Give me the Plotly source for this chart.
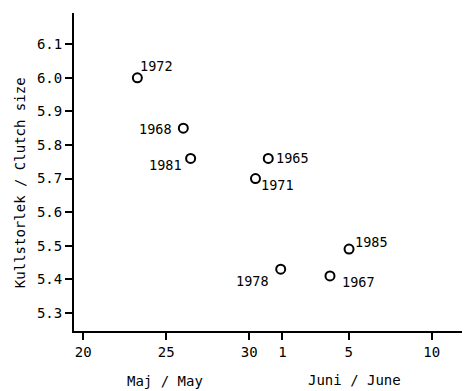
import plotly.graph_objects as go

# Data: laying date expressed as day number counted from 1 May (1 June = 32)
years = ["1972", "1968", "1981", "1965", "1971", "1978", "1967", "1985"]
lay_day = [23.26, 26.03, 26.47, 31.15, 30.38, 31.90, 34.87, 36.02]
clutch_size = [6.00, 5.85, 5.76, 5.76, 5.70, 5.43, 5.41, 5.49]

x_tick_vals = [20, 25, 30, 32, 36, 41]
x_tick_text = ["20", "25", "30", "1", "5", "10"]
y_tick_vals = [5.3, 5.4, 5.5, 5.6, 5.7, 5.8, 5.9, 6.0, 6.1]

# label offsets (pixels, right / up) relative to each point
label_dx = [19, -27.5, -25, 24, 22.5, -28, 29, 22.7]
label_dy = [12.3, -0.5, -6.8, 0.5, -6, -11.3, -6.2, 7]

FONT = "DejaVu Sans Mono"

fig = go.Figure()
fig.add_trace(go.Scatter(
    x=lay_day, y=clutch_size, mode="markers",
    marker=dict(symbol="circle-open", size=9, color="black",
                line=dict(color="black", width=2)),
    hoverinfo="skip", showlegend=False,
))

annotations = []
for yr, xv, yv, dx, dy in zip(years, lay_day, clutch_size, label_dx, label_dy):
    annotations.append(dict(
        x=xv, y=yv, xref="x", yref="y", text=yr, showarrow=False,
        xanchor="center", yanchor="middle", xshift=dx, yshift=dy,
        font=dict(family=FONT, size=13.5, color="black"),
    ))

annotations += [
    dict(x=0.230, y=-0.157, xref="paper", yref="paper", text="Maj / May",
         showarrow=False, xanchor="center", yanchor="middle",
         font=dict(family=FONT, size=14, color="black")),
    dict(x=0.712, y=-0.154, xref="paper", yref="paper", text="Juni / June",
         showarrow=False, xanchor="center", yanchor="middle",
         font=dict(family=FONT, size=14, color="black")),
    dict(x=-0.137, y=0.465, xref="paper", yref="paper",
         text="Kullstorlek / Clutch size", textangle=-90,
         showarrow=False, xanchor="center", yanchor="middle",
         font=dict(family=FONT, size=14, color="black")),
]

fig.update_layout(
    width=462, height=383,
    margin=dict(l=66, r=2, t=5, b=60),
    paper_bgcolor="white", plot_bgcolor="white",
    annotations=annotations,
    font=dict(family=FONT, size=14, color="black"),
)
fig.update_xaxes(
    range=[19.44, 43.19], tickmode="array", tickvals=x_tick_vals,
    ticktext=x_tick_text, ticks="outside", ticklen=7, tickwidth=1.5,
    tickcolor="black", showline=True, linecolor="black", linewidth=2,
    showgrid=False, zeroline=False,
    tickfont=dict(family=FONT, size=14, color="black"),
)
fig.update_yaxes(
    range=[5.246, 6.193], tickmode="array", tickvals=y_tick_vals,
    tickformat=".1f", ticks="outside", ticklen=7, tickwidth=1.5,
    tickcolor="black", showline=True, linecolor="black", linewidth=2,
    showgrid=False, zeroline=False,
    tickfont=dict(family=FONT, size=14, color="black"),
)

fig.write_html("out.html")
